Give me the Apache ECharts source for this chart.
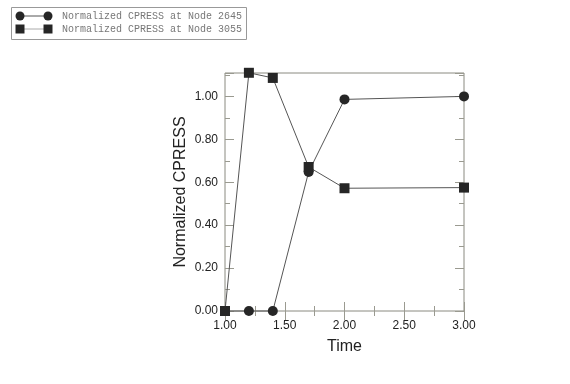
<!DOCTYPE html>
<html><head><meta charset="utf-8">
<script src="https://cdn.jsdelivr.net/npm/echarts@6/dist/echarts.min.js"></script>
<style>html,body{margin:0;padding:0;background:#fff}#c{width:570px;height:384px}</style>
</head><body><div id="c"></div>
<script>
var seriesNames = ['Normalized CPRESS at Node 2645', 'Normalized CPRESS at Node 3055'];
var timeA = [1.0, 1.2, 1.4, 1.7, 2.0, 3.0];
var valuesA = [0.0, 0.0, 0.0, 0.648, 0.986, 1.0];
var timeB = [1.0, 1.2, 1.4, 1.7, 2.0, 3.0];
var valuesB = [0.0, 1.11, 1.086, 0.671, 0.572, 0.575];
var xTicks = [1.0, 1.5, 2.0, 2.5, 3.0];
var yTicks = [0.0, 0.2, 0.4, 0.6, 0.8, 1.0];

var chart = echarts.init(document.getElementById('c'), null, {renderer: 'canvas'});
var axisCol = '#8a8a80';
var tickCol = '#9a9a90';
function pairs(xs, ys) { return xs.map(function (x, i) { return [x, ys[i]]; }); }
function isTick(list, v) { return list.some(function (t) { return Math.abs(t - v) < 1e-6; }); }
var gridRect = {left: 225, top: 73, width: 239, height: 238};
var common = {
  axisLine: {show: false},
  splitLine: {show: false}
};
var option = {
  animation: false,
  grid: {left: gridRect.left, top: gridRect.top, width: gridRect.width, height: gridRect.height,
         show: true, borderColor: axisCol, borderWidth: 1, backgroundColor: 'transparent'},
  xAxis: [
    Object.assign({type: 'value', min: 1, max: 3, interval: 0.5, position: 'bottom',
      name: 'Time', nameLocation: 'middle', nameGap: 28,
      nameTextStyle: {fontFamily: 'Liberation Sans', fontSize: 16, color: '#222'},
      axisTick: {show: true, inside: true, length: 9, lineStyle: {color: tickCol}},
      minorTick: {show: true, splitNumber: 2, length: 5, lineStyle: {color: tickCol}},
      axisLabel: {fontFamily: 'Liberation Sans', fontSize: 12, color: '#222', margin: 9,
        formatter: function (v) { return isTick(xTicks, v) ? v.toFixed(2) : ''; }}}, common),
    Object.assign({type: 'value', min: 1, max: 3, interval: 0.5, position: 'top',
      axisTick: {show: true, inside: true, length: 9, lineStyle: {color: tickCol}},
      minorTick: {show: true, splitNumber: 2, length: 5, lineStyle: {color: tickCol}},
      axisLabel: {show: false}}, common)
  ],
  yAxis: [
    Object.assign({type: 'value', min: 0, max: 1.109, interval: 0.2, position: 'left',
      name: 'Normalized CPRESS', nameLocation: 'middle', nameGap: 36, nameRotate: 90,
      nameTextStyle: {fontFamily: 'Liberation Sans', fontSize: 16, color: '#222'},
      axisTick: {show: true, inside: true, length: 9, lineStyle: {color: tickCol}},
      minorTick: {show: true, splitNumber: 2, length: 5, lineStyle: {color: tickCol}},
      axisLabel: {fontFamily: 'Liberation Sans', fontSize: 12, color: '#222', margin: 7,
        formatter: function (v) { return isTick(yTicks, v) ? v.toFixed(2) : ''; }}}, common),
    Object.assign({type: 'value', min: 0, max: 1.109, interval: 0.2, position: 'right',
      axisTick: {show: true, inside: true, length: 9, lineStyle: {color: tickCol}},
      minorTick: {show: true, splitNumber: 2, length: 5, lineStyle: {color: tickCol}},
      axisLabel: {show: false}}, common)
  ],
  series: [
    {name: seriesNames[0], type: 'line', data: pairs(timeA, valuesA), symbol: 'circle', symbolSize: 10,
     lineStyle: {color: '#555', width: 1}, itemStyle: {color: '#262626'}, clip: false, z: 3},
    {name: seriesNames[1], type: 'line', data: pairs(timeB, valuesB), symbol: 'rect', symbolSize: 10,
     lineStyle: {color: '#555', width: 1}, itemStyle: {color: '#262626'}, clip: false, z: 4}
  ],
  graphic: [
    {type: 'rect', shape: {x: 11.5, y: 7.5, width: 235, height: 32}, style: {fill: 'none', stroke: '#999', lineWidth: 1}},
    {type: 'line', shape: {x1: 20, y1: 16, x2: 48, y2: 16}, style: {stroke: '#555', lineWidth: 1}},
    {type: 'circle', shape: {cx: 20, cy: 16, r: 4.5}, style: {fill: '#262626'}},
    {type: 'circle', shape: {cx: 48, cy: 16, r: 4.5}, style: {fill: '#262626'}},
    {type: 'line', shape: {x1: 20, y1: 29, x2: 48, y2: 29}, style: {stroke: '#aaa', lineWidth: 1}},
    {type: 'rect', shape: {x: 15.5, y: 24.5, width: 9, height: 9}, style: {fill: '#262626'}},
    {type: 'rect', shape: {x: 43.5, y: 24.5, width: 9, height: 9}, style: {fill: '#262626'}},
    {type: 'text', x: 62, y: 16, style: {text: seriesNames[0], fontFamily: 'Liberation Mono', fontSize: 10, fill: '#777', verticalAlign: 'middle'}},
    {type: 'text', x: 62, y: 29, style: {text: seriesNames[1], fontFamily: 'Liberation Mono', fontSize: 10, fill: '#777', verticalAlign: 'middle'}}
  ]
};
chart.setOption(option);
</script>
</body></html>
